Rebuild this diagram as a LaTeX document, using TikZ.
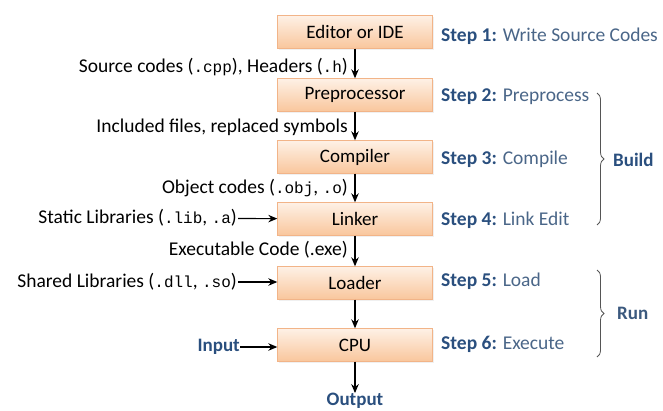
\documentclass[tikz,border=0pt]{standalone}
\usepackage{fontspec}
\setmainfont{Carlito}
\newfontfamily\monof{Liberation Mono}
\usetikzlibrary{arrows.meta,decorations.pathreplacing,shadows}
\definecolor{boxtop}{HTML}{FEF1E6}
\definecolor{boxbot}{HTML}{F9C69C}
\definecolor{boxedge}{HTML}{F2B488}
\definecolor{stepblue}{HTML}{2A4F7E}
\definecolor{steptext}{HTML}{4A6688}
\definecolor{bracegray}{HTML}{555555}
\newcommand{\mono}[1]{{\monof\fontsize{16}{19}\selectfont #1}}
\tikzset{
  x=1pt,y=-1pt,
  procbox/.style={draw=boxedge,top color=boxtop,bottom color=boxbot,minimum width=155pt,minimum height=33pt,inner sep=0pt,font=\fontsize{19}{22}\selectfont,drop shadow={opacity=0.12,shadow xshift=1.5pt,shadow yshift=-1.5pt}},
  flow/.style={-{Stealth[length=9pt,width=7.5pt]},line width=1.1pt,black},
  lbl/.style={anchor=east,inner sep=1pt,font=\fontsize{19.5}{22}\selectfont},
  steplbl/.style={anchor=west,inner sep=0pt,font=\fontsize{19.5}{22}\selectfont,text=steptext},
  brc/.style={decorate,decoration={brace,amplitude=7pt},draw=bracegray,line width=0.8pt},
  bold/.style={font=\fontsize{19}{22}\selectfont\bfseries,text=stepblue}
}
\begin{document}
\begin{tikzpicture}
\useasboundingbox (0,0) rectangle (663,410);
\node[procbox] (ed) at (355,32) {Editor or IDE};
\node[procbox] (pp) at (355,95) {Preprocessor};
\node[procbox] (cc) at (355,157) {Compiler};
\node[procbox] (ln) at (355,219) {Linker};
\node[procbox] (ld) at (355,283) {Loader};
\node[procbox] (cpu) at (355,345) {CPU};
\node[bold,inner sep=0pt] (out) at (355,401) {Output};
\node[bold,anchor=east,inner sep=0pt] (in) at (240,347) {Input};

\draw[flow] (ed) -- (pp);
\draw[flow] (pp) -- (cc);
\draw[flow] (cc) -- (ln);
\draw[flow] (ln) -- (ld);
\draw[flow] (ld) -- (cpu);
\draw[flow] (cpu) -- (out);

\node[lbl] (l1) at (349,67) {Source codes (\mono{.cpp}), Headers (\mono{.h})};
\node[lbl] (l2) at (349,127) {Included files, replaced symbols};
\node[lbl] (l3) at (349,188) {Object codes (\mono{.obj}, \mono{.o})};
\node[lbl] (l4) at (349,250) {Executable Code (.exe)};

\node[lbl,anchor=east] (sl) at (238,218) {Static Libraries (\mono{.lib}, \mono{.a})};
\node[lbl,anchor=east] (dl) at (238,282) {Shared Libraries (\mono{.dll}, \mono{.so})};
\draw[flow] (sl) -- (ln);
\draw[flow] (dl.east) -- (dl.east -| ld.west);
\draw[flow] (in) -- (in -| cpu.west);

\node[steplbl] (s1) at (441,36) {\textcolor{stepblue}{\bfseries Step 1:} Write Source Codes};
\node[steplbl] (s2) at (441,97) {\textcolor{stepblue}{\bfseries Step 2:} Preprocess};
\node[steplbl] (s3) at (441,159) {\textcolor{stepblue}{\bfseries Step 3:} Compile};
\node[steplbl] (s4) at (441,220) {\textcolor{stepblue}{\bfseries Step 4:} Link Edit};
\node[steplbl] (s5) at (441,281) {\textcolor{stepblue}{\bfseries Step 5:} Load};
\node[steplbl] (s6) at (441,344) {\textcolor{stepblue}{\bfseries Step 6:} Execute};

\coordinate (b1) at (597,93);
\coordinate (b2) at (597,225);
\draw[brc] (b1) -- (b2);
\node[bold,anchor=west,inner sep=0pt] (build) at (613,160) {Build};
\coordinate (r1) at (597,270);
\coordinate (r2) at (597,357);
\draw[brc] (r1) -- (r2);
\node[anchor=west,inner sep=0pt,font=\fontsize{19}{22}\selectfont\bfseries,text=stepblue!80!gray] (run) at (617,313) {Run};
\end{tikzpicture}
\end{document}
